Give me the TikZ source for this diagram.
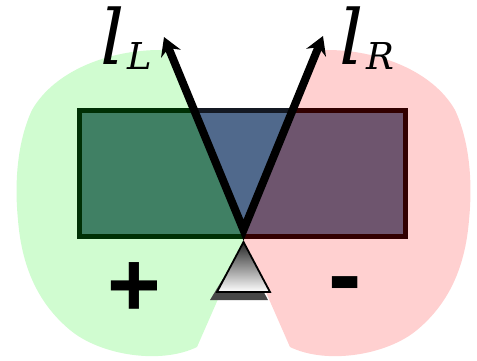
\documentclass[tikz,border=0pt]{standalone}
\usepackage{fontspec}
\usetikzlibrary{arrows.meta}
\newfontfamily\lblfont{DejaVu Serif}
\newfontfamily\signfont{Liberation Sans}
\definecolor{greenbg}{RGB}{208,252,208}
\definecolor{redbg}{RGB}{255,208,208}
\definecolor{fillL}{RGB}{64,128,100}
\definecolor{fillM}{RGB}{80,105,140}
\definecolor{fillR}{RGB}{110,85,110}
\definecolor{bordL}{RGB}{0,48,5}
\definecolor{bordM}{RGB}{20,25,35}
\definecolor{bordR}{RGB}{50,0,0}
\newcommand\raylabel[1]{{\fontsize{76}{76}\selectfont l}\kern3pt\raisebox{-5pt}{\fontsize{37}{37}\selectfont #1}}
\tikzset{
  rim/.style={line width=5pt},
  vee/.style={line width=8pt, line join=miter,
    {Stealth[length=18pt,width=21pt,inset=6pt]}-{Stealth[length=18pt,width=21pt,inset=6pt]}},
  raytext/.style={anchor=base west, inner sep=0pt, font=\lblfont\itshape},
  sign/.style={anchor=base, inner sep=0pt, font=\signfont\bfseries\fontsize{92}{92}\selectfont},
}
\begin{document}
\begin{tikzpicture}[x=1pt,y=-1pt]
\useasboundingbox (0,0) rectangle (477,361);
\coordinate (A) at (243.5,230);
\coordinate (tL) at (164,37);
\coordinate (tR) at (323,36);
% blobs
\fill[greenbg] (197,347) -- (243.5,241) -- (A) -- (169.4,50) -- (160,50)
  .. controls (110,50) and (55,70) .. (32,110)
  .. controls (18,140) and (14,180) .. (18,220)
  .. controls (22,270) and (40,305) .. (70,330)
  .. controls (100,355) and (160,365) .. (197,347) -- cycle;
\begin{scope}[shift={(487,0)}, xscale=-1]
\fill[redbg] (197,347) -- (243.5,241) -- (243.5,230) -- (169.4,50) -- (160,50)
  .. controls (110,50) and (55,70) .. (32,110)
  .. controls (18,140) and (14,180) .. (18,220)
  .. controls (22,270) and (40,305) .. (70,330)
  .. controls (100,355) and (160,365) .. (197,347) -- cycle;
\end{scope}
% rectangle, three parts
\begin{scope}
\clip (0,0) -- (148.8,0) -- (A) -- (243.5,361) -- (0,361) -- cycle;
\fill[fillL] (79.5,110.5) rectangle (405.5,236.5);
\draw[rim, bordL] (79.5,110.5) rectangle (405.5,236.5);
\end{scope}
\begin{scope}
\clip (148.8,0) -- (337.75,0) -- (A) -- cycle;
\fill[fillM] (79.5,110.5) rectangle (405.5,236.5);
\draw[rim, bordM] (79.5,110.5) rectangle (405.5,236.5);
\end{scope}
\begin{scope}
\clip (477,0) -- (337.75,0) -- (A) -- (243.5,361) -- (477,361) -- cycle;
\fill[fillR] (79.5,110.5) rectangle (405.5,236.5);
\draw[rim, bordR] (79.5,110.5) rectangle (405.5,236.5);
\end{scope}
% camera triangle
\fill[black!72] (241,249) -- (210,300) -- (268,300) -- cycle;
\shade[top color=black!85, bottom color=white, draw=black, line width=1.8pt, line join=miter]
  (243.5,242) -- (217,292) -- (270,292) -- cycle;
% rays
\draw[vee] (tL) -- (A) -- (tR);
% labels
\node[raytext] (lL) at (100,65) {\raylabel{L}};
\node[raytext] (lR) at (339,65) {\raylabel{R}};
\node[sign] (plus) at (134,316) {+};
\node[sign, font=\signfont\bfseries\fontsize{100}{100}\selectfont] (minus) at (345,308) {-};
\end{tikzpicture}
\end{document}
